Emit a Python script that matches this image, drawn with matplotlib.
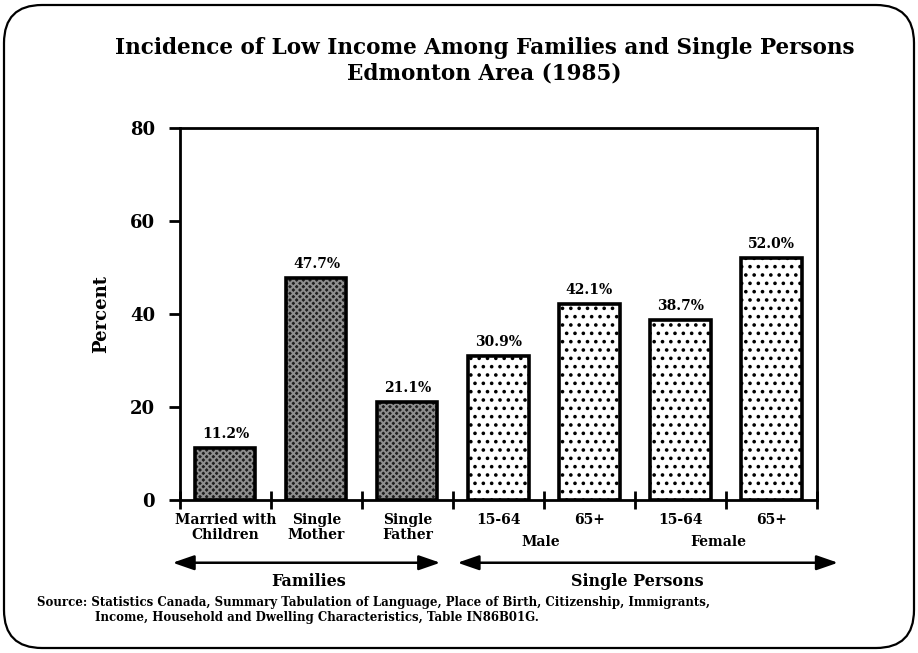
import matplotlib
matplotlib.use("Agg")
import matplotlib.pyplot as plt
from matplotlib.patches import FancyBboxPatch
import numpy as np

# Data
categories = ["Married with\nChildren", "Single\nMother", "Single\nFather",
              "15-64", "65+", "15-64", "65+"]
values = [11.2, 47.7, 21.1, 30.9, 42.1, 38.7, 52.0]
group = ["family", "family", "family", "single", "single", "single", "single"]
y_ticks = [0, 20, 40, 60, 80]

FONT = "DejaVu Serif"
plt.rcParams["font.family"] = FONT
plt.rcParams["font.weight"] = "bold"
plt.rcParams["hatch.linewidth"] = 1.4

fig = plt.figure(figsize=(9.18, 6.53), dpi=100)

# Rounded frame around the whole page
frame_ax = fig.add_axes([0, 0, 1, 1], zorder=-1)
frame_ax.set_xlim(0, 918)
frame_ax.set_ylim(653, 0)
frame_ax.axis("off")
frame_ax.add_patch(FancyBboxPatch((4, 5), 910, 643,
                                  boxstyle="round,pad=0,rounding_size=38",
                                  fill=False, ec="black", lw=1.6))

ax = fig.add_axes([0.196, 0.234, 0.694, 0.570])
x = np.arange(len(values))
width = 0.66

for xi, v, g in zip(x, values, group):
    if g == "family":
        ax.bar(xi, v, width, color="#1e1e1e", hatch="xxxxx",
               edgecolor="#8e8e8e", linewidth=0, zorder=2)
    else:
        ax.bar(xi, v, width, color="white", hatch="..",
               edgecolor="black", linewidth=0, zorder=2)
    ax.bar(xi, v, width, fill=False, edgecolor="black", linewidth=2.6, zorder=3)
    ax.text(xi, v + 1.5, f"{v:.1f}%", ha="center", va="bottom",
            fontsize=10, fontweight="bold")

ax.set_xlim(-0.5, 6.5)
ax.set_ylim(0, 80)
ax.set_yticks(y_ticks)
ax.set_yticklabels([str(t) for t in y_ticks], fontsize=13, fontweight="bold")
ax.tick_params(axis="y", direction="out", length=8, width=2, pad=10)

# Ticks on category boundaries, labels under category centres
ax.set_xticks(np.arange(-0.5, 7, 1.0))
ax.set_xticklabels([])
ax.tick_params(axis="x", direction="inout", length=13, width=2)
for xi, c in zip(x, categories):
    ax.text(xi, -0.035, c, transform=ax.get_xaxis_transform(), ha="center",
            va="top", fontsize=10, fontweight="bold", linespacing=1.1)

for side in ["top", "right", "left", "bottom"]:
    ax.spines[side].set_linewidth(2)

ax.set_ylabel("Percent", fontsize=13, fontweight="bold", labelpad=14)

# Sex labels under the single-person pairs
tr = ax.get_xaxis_transform()
ax.text(3.46, -0.093, "Male", transform=tr, ha="center", va="top",
        fontsize=10, fontweight="bold")
ax.text(5.41, -0.093, "Female", transform=tr, ha="center", va="top",
        fontsize=10, fontweight="bold")

# Group arrows
arrow_kw = dict(arrowstyle="<|-|>,head_length=1.3,head_width=0.45",
                color="black", lw=1.8, shrinkA=0, shrinkB=0)
ax.annotate("", xy=(-0.58, -0.168), xytext=(2.36, -0.168), xycoords=tr,
            textcoords=tr, arrowprops=arrow_kw, annotation_clip=False)
ax.annotate("", xy=(2.55, -0.168), xytext=(6.73, -0.168), xycoords=tr,
            textcoords=tr, arrowprops=arrow_kw, annotation_clip=False)
ax.text(0.91, -0.196, "Families", transform=tr, ha="center", va="top",
        fontsize=11.5, fontweight="bold")
ax.text(4.52, -0.196, "Single Persons", transform=tr, ha="center", va="top",
        fontsize=11.5, fontweight="bold")

fig.text(0.528, 0.907, "Incidence of Low Income Among Families and Single Persons\n"
         "Edmonton Area (1985)", ha="center", va="center", fontsize=15.5,
         fontweight="bold", linespacing=1.15)

fig.text(0.040, 0.078, "Source: Statistics Canada, Summary Tabulation of Language, "
         "Place of Birth, Citizenship, Immigrants,", ha="left", va="center",
         fontsize=8.5, fontweight="bold")
fig.text(0.103, 0.054, "Income, Household and Dwelling Characteristics, "
         "Table IN86B01G.", ha="left", va="center", fontsize=8.5,
         fontweight="bold")

fig.savefig("out.png", dpi=100)
